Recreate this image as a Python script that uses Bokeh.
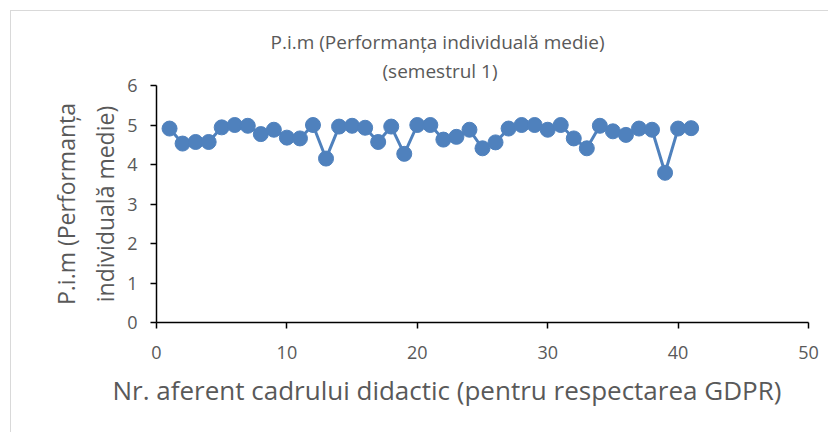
from bokeh.plotting import figure
from bokeh.models import Range1d, FixedTicker, Title
from bokeh.embed import file_html
from bokeh.resources import INLINE

ids = list(range(1, 42))
pim = [4.91, 4.53, 4.57, 4.57, 4.94, 5.00, 4.98, 4.77, 4.88, 4.68, 4.66, 5.00, 4.15,
       4.96, 4.98, 4.93, 4.57, 4.96, 4.27, 5.00, 5.00, 4.63, 4.70, 4.88, 4.41, 4.56,
       4.91, 5.00, 5.00, 4.88, 5.00, 4.66, 4.41, 4.98, 4.84, 4.75, 4.91, 4.88, 3.79,
       4.91, 4.92]
x_ticks = [0, 10, 20, 30, 40, 50]
y_ticks = [0, 1, 2, 3, 4, 5, 6]
title1 = "P.i.m (Performanța individuală medie)"
title2 = "(semestrul 1)"
x_label = "Nr. aferent cadrului didactic (pentru respectarea GDPR)"
y_label1 = "P.i.m (Performanța"
y_label2 = "individuală medie)"

FONT = "Open Sans"
GREY = "#595959"
BLUE = "#4F81BD"

p = figure(width=818, height=422, output_backend="svg", toolbar_location=None,
           x_range=Range1d(0, 50), y_range=Range1d(0, 6),
           min_border_left=145, min_border_right=21, min_border_top=74,
           min_border_bottom=111)
p.outline_line_color = None
p.border_fill_color = "white"
p.background_fill_color = "white"
p.xgrid.visible = False
p.ygrid.visible = False
p.title.visible = False

p.line(ids, pim, line_color=BLUE, line_width=3)
p.scatter(ids, pim, size=15, fill_color=BLUE, line_color=BLUE)

for ax in (p.xaxis[0], p.yaxis[0]):
    ax.axis_line_color = "black"
    ax.axis_line_width = 1.5
    ax.major_tick_line_color = "black"
    ax.major_tick_line_width = 1.5
    ax.major_tick_in = 0
    ax.major_tick_out = 6
    ax.minor_tick_line_color = None
    ax.major_label_text_font = FONT
    ax.major_label_text_font_size = "18px"
    ax.major_label_text_color = GREY

p.xaxis.ticker = FixedTicker(ticks=x_ticks)
p.yaxis.ticker = FixedTicker(ticks=y_ticks)
p.xaxis.major_label_standoff = 17
p.yaxis.major_label_standoff = 13


def ttl(text, size, align="left", offset=0, standoff=2):
    return Title(text=text, align=align, offset=offset, text_font=FONT,
                 text_font_size=size, text_color=GREY, text_font_style="normal",
                 standoff=standoff)


p.add_layout(ttl(title2, "19px", offset=226, standoff=3), "above")
p.add_layout(ttl(title1, "19px", offset=114, standoff=0), "above")
p.add_layout(ttl(x_label, "26px", offset=-44, standoff=17), "below")
p.add_layout(ttl(y_label2, "23px", align="center", standoff=8), "left")
p.add_layout(ttl(y_label1, "23px", align="center", standoff=2), "left")

p.styles = {"margin-left": "10px", "margin-top": "10px",
            "border-left": "1px solid #d9d9d9", "border-top": "1px solid #d9d9d9"}

open("out.html", "w").write(file_html(p, INLINE))
